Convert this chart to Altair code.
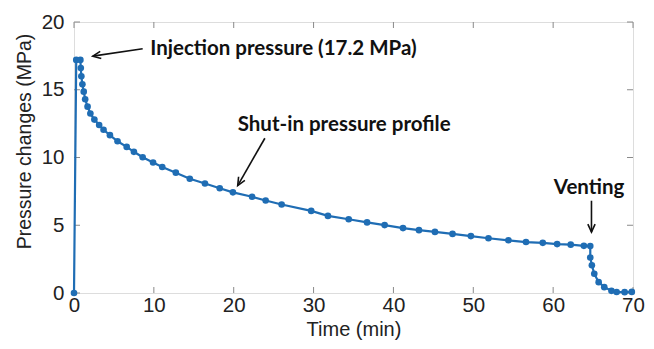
import altair as alt
import pandas as pd

# Measured series (time in min, pressure change in MPa)
time_min = [0, 0.28, 0.8, 0.85, 0.92, 1.05, 1.22, 1.4, 1.7, 2.05, 2.55, 3.15, 3.7,
            4.5, 5.45, 6.6, 7.5, 8.6, 9.9, 11.05, 12.75, 14.5, 16.4,
            18.25, 19.9, 22.3, 24.0, 26.0, 29.7, 31.8, 34.4, 36.7, 38.9,
            41.2, 43.2, 45.2, 47.4, 49.7, 51.9, 54.4, 56.6, 58.7, 60.5,
            62.2, 63.85, 64.65, 64.65, 64.85, 65.15, 65.7, 66.4, 67.3, 67.95,
            68.95, 69.85]
pressure = [0, 17.2, 17.2, 16.6, 16.0, 15.4, 14.86, 14.3, 13.75, 13.25, 12.8, 12.4, 12.05,
            11.65, 11.2, 10.78, 10.42, 10.02, 9.63, 9.3, 8.88, 8.43, 8.08,
            7.73, 7.43, 7.1, 6.83, 6.53, 6.06, 5.69, 5.44, 5.21, 5.01,
            4.79, 4.64, 4.51, 4.36, 4.2, 4.04, 3.89, 3.76, 3.7, 3.61,
            3.57, 3.48, 3.46, 2.62, 2.05, 1.42, 0.8, 0.43, 0.16, 0.07,
            0.06, 0.08]

x_ticks = [0, 10, 20, 30, 40, 50, 60, 70]
y_ticks = [0, 5, 10, 15, 20]

# Annotations
ann_text = ["Injection pressure (17.2 MPa)", "Shut-in pressure profile", "Venting"]
ann_x = [9.55, 20.5, 64.5]
ann_y = [18.03, 12.42, 7.73]
ann_align = ["left", "left", "center"]
arrow_x1 = [8.6, 23.9, 64.8]
arrow_y1 = [18.03, 11.42, 6.81]
arrow_x2 = [2.35, 20.5, 64.8]
arrow_y2 = [17.48, 7.93, 4.49]
arrow_angle = [261.6, 210.0, 180.0]

W, H = 559, 271
BLUE = "#1f6db4"
FONT = "Liberation Sans"
ANN_FONT = "Lato"

df = pd.DataFrame({"t": time_min, "p": pressure, "i": list(range(len(time_min)))})
xt = pd.DataFrame({"v": x_ticks})
yt = pd.DataFrame({"v": y_ticks})
ann = pd.DataFrame({"text": ann_text, "x": ann_x, "y": ann_y, "align": ann_align})
arr = pd.DataFrame({"x1": arrow_x1, "y1": arrow_y1, "x2": arrow_x2, "y2": arrow_y2,
                    "angle": arrow_angle})

xs = alt.Scale(domain=[0, 70], nice=False)
ys = alt.Scale(domain=[0, 20], nice=False)

x_axis = alt.Axis(values=x_ticks, title="Time (min)", domain=False, ticks=False, grid=False,
                  labelFontSize=20.5, titleFontSize=20, labelFont=FONT, titleFont=FONT,
                  labelColor="#222", titleColor="#222", titleFontWeight="normal",
                  labelPadding=2, titlePadding=4, labelFlush=False)
y_axis = alt.Axis(values=y_ticks, title="Pressure changes (MPa)", domain=False, ticks=False,
                  grid=False, labelFontSize=20.5, titleFontSize=19.5, labelFont=FONT,
                  titleFont=FONT, labelColor="#222", titleColor="#222",
                  titleFontWeight="normal", labelPadding=10, titlePadding=7,
                  labelFlush=False, titleY=119)

line = alt.Chart(df).mark_line(color=BLUE, strokeWidth=2.2, clip=False).encode(
    x=alt.X("t:Q", scale=xs, axis=x_axis),
    y=alt.Y("p:Q", scale=ys, axis=y_axis),
    order="i:Q",
)
pts = alt.Chart(df).mark_point(color=BLUE, filled=True, size=44, opacity=1, clip=False).encode(
    x=alt.X("t:Q", scale=xs), y=alt.Y("p:Q", scale=ys)
)

tick_color = "#8a8a8a"
xb = alt.Chart(xt).mark_rule(color=tick_color, strokeWidth=1).encode(
    x=alt.X("v:Q", scale=xs), y=alt.value(H), y2=alt.value(H - 6))
xtop = alt.Chart(xt).mark_rule(color=tick_color, strokeWidth=1).encode(
    x=alt.X("v:Q", scale=xs), y=alt.value(0), y2=alt.value(6))
yl = alt.Chart(yt).mark_rule(color=tick_color, strokeWidth=1).encode(
    y=alt.Y("v:Q", scale=ys), x=alt.value(0), x2=alt.value(6))
yr = alt.Chart(yt).mark_rule(color=tick_color, strokeWidth=1).encode(
    y=alt.Y("v:Q", scale=ys), x=alt.value(W), x2=alt.value(W - 6))

shafts = alt.Chart(arr).mark_rule(color="#111", strokeWidth=1.6).encode(
    x=alt.X("x1:Q", scale=xs), y=alt.Y("y1:Q", scale=ys),
    x2="x2:Q", y2="y2:Q")
heads = alt.Chart(arr).mark_point(
    shape="M-0.45,1 L0,0 L0.45,1", filled=False, color="#111", strokeWidth=1.6,
    size=260, opacity=1).encode(
    x=alt.X("x2:Q", scale=xs), y=alt.Y("y2:Q", scale=ys), angle=alt.Angle("angle:Q", scale=None))

texts = []
for a in ["left", "center"]:
    texts.append(alt.Chart(ann[ann["align"] == a]).mark_text(
        align=a, baseline="middle", font=ANN_FONT, fontSize=20.5, fontWeight="bold",
        color="#111").encode(
        x=alt.X("x:Q", scale=xs), y=alt.Y("y:Q", scale=ys), text="text:N"))

chart = alt.layer(xb, xtop, yl, yr, line, pts, shafts, heads, *texts).properties(
    width=W, height=H,
    autosize=alt.AutoSizeParams(type="none"),
    padding={"left": 66, "top": 14, "right": 13, "bottom": 48},
).configure_view(stroke="#999", strokeWidth=1).configure(background="white")

chart.save("out.html", embed_options={"renderer": "svg", "actions": False})
